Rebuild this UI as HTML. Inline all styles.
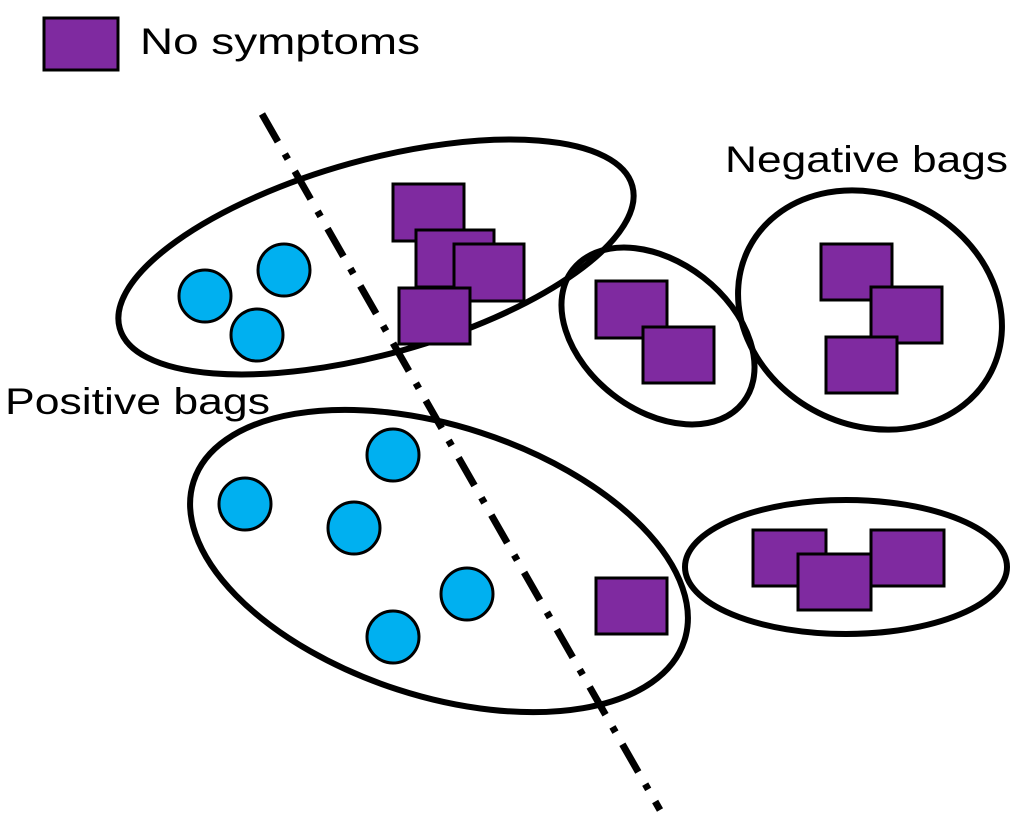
<!DOCTYPE html>
<html><head><style>body{margin:0;background:#fff}svg{display:block}</style></head><body>
<svg width="1024" height="824" viewBox="0 0 1024 824" xmlns="http://www.w3.org/2000/svg">
<g fill="none" stroke="#000" stroke-width="6">
<ellipse cx="376" cy="257" rx="266" ry="97" transform="rotate(-15.5 376 257)"/>
<ellipse cx="658" cy="336" rx="108" ry="74" transform="rotate(38 658 336)"/>
<ellipse cx="870" cy="310" rx="136" ry="115" transform="rotate(27 870 310)"/>
<ellipse cx="439" cy="561" rx="258" ry="135" transform="rotate(18 439 561)"/>
<ellipse cx="846" cy="567" rx="161" ry="67"/>
</g>
<line x1="262" y1="114" x2="660" y2="810" stroke="#000" stroke-width="7" stroke-dasharray="32 14 6 14"/>
<g fill="#00b0f0" stroke="#000" stroke-width="3">
<circle cx="205" cy="296" r="26"/><circle cx="284" cy="270" r="26"/><circle cx="257" cy="335" r="26"/>
<circle cx="393" cy="455" r="26"/><circle cx="245" cy="504" r="26"/><circle cx="354" cy="528" r="26"/>
<circle cx="467" cy="594" r="26"/><circle cx="393" cy="637" r="26"/>
</g>
<g fill="#7f2aa0" stroke="#000" stroke-width="3">
<rect x="44" y="18" width="74" height="52"/>
<rect x="393" y="184" width="71" height="57"/>
<rect x="416" y="230" width="78" height="57"/>
<rect x="454" y="244" width="70" height="57"/>
<rect x="399" y="288" width="71" height="56"/>
<rect x="596" y="281" width="71" height="57"/>
<rect x="643" y="327" width="71" height="56"/>
<rect x="821" y="244" width="71" height="56"/>
<rect x="871" y="287" width="71" height="56"/>
<rect x="826" y="337" width="71" height="56"/>
<rect x="596" y="578" width="71" height="56"/>
<rect x="753" y="530" width="73" height="56"/>
<rect x="871" y="530" width="73" height="56"/>
<rect x="798" y="554" width="73" height="56"/>
</g>
<g font-family="Liberation Sans, sans-serif" font-size="37" fill="#000">
<text x="140" y="54" textLength="280" lengthAdjust="spacingAndGlyphs">No symptoms</text>
<text x="725" y="172" textLength="283" lengthAdjust="spacingAndGlyphs">Negative bags</text>
<text x="5" y="414" textLength="265" lengthAdjust="spacingAndGlyphs">Positive bags</text>
</g>
</svg>
</body></html>
